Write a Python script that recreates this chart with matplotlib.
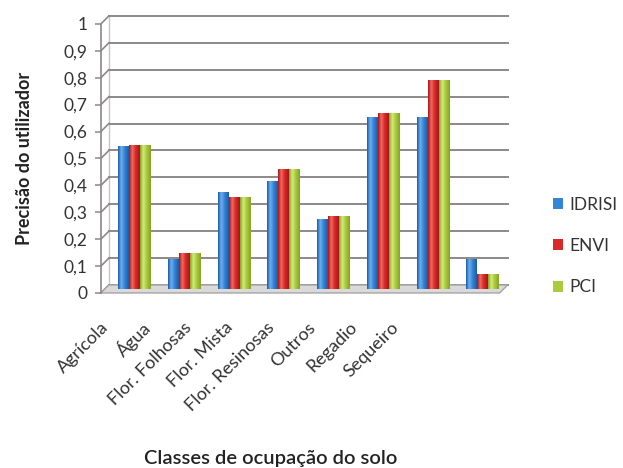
import matplotlib.pyplot as plt
import numpy as np
from matplotlib.colors import LinearSegmentedColormap
from matplotlib.patches import Polygon, Patch

classes = ["Agrícola", "Água", "Flor. Folhosas", "Flor. Mista",
           "Flor. Resinosas", "Outros", "Regadio", "Sequeiro"]
idrisi = [0.53, 0.11, 0.36, 0.40, 0.26, 0.64, 0.64, 0.11]
envi = [0.535, 0.135, 0.34, 0.445, 0.27, 0.655, 0.775, 0.055]
pci = [0.535, 0.135, 0.34, 0.445, 0.27, 0.655, 0.775, 0.055]
series_names = ["IDRISI", "ENVI", "PCI"]
yticks = [0, 0.1, 0.2, 0.3, 0.4, 0.5, 0.6, 0.7, 0.8, 0.9, 1]
ytick_labels = ["0", "0,1", "0,2", "0,3", "0,4", "0,5", "0,6", "0,7", "0,8", "0,9", "1"]

# edge, middle, highlight for the cylinder-like shading
shades = {
    "IDRISI": ("#1d5aa6", "#3585d6", "#6cb0f0"),
    "ENVI": ("#a8141a", "#d92a2a", "#f26a5e"),
    "PCI": ("#86a326", "#aacb3e", "#d4ec7a"),
}

plt.rcParams['font.family'] = ['Lato', 'DejaVu Sans']
grid_col = "#8e8888"

fig = plt.figure(figsize=(6.23, 4.68), dpi=100)
ax = fig.add_axes([0.162, 0.374, 0.640, 0.575])
x0, x1 = -0.6, 7.42
ax.set_xlim(x0, x1)
ax.set_ylim(0, 1)
ax.patch.set_visible(False)

# depth of the pseudo-3D box, 8 px, in data units
ppx = 623 * 0.640 / (x1 - x0)
ppy = 468 * 0.575
ddx, ddy = 8 / ppx, 8 / ppy

# floor
floor = Polygon([(x0, 0), (x1, 0), (x1 + ddx, ddy), (x0 + ddx, ddy)],
                closed=True, facecolor="#d9d9d9", edgecolor="#a5a5a5",
                lw=1.0, clip_on=False, zorder=1)
ax.add_patch(floor)

# back wall gridlines and left wall diagonals
for v in yticks:
    ax.plot([x0 + ddx, x1 + ddx], [v + ddy, v + ddy], color=grid_col,
            lw=1.4, clip_on=False, zorder=0.5)
    ax.plot([x0, x0 + ddx], [v, v + ddy], color=grid_col, lw=1.2,
            clip_on=False, zorder=0.5)
ax.plot([x0 + ddx, x0 + ddx], [ddy, 1 + ddy], color="#c8c4c4", lw=1.0,
        clip_on=False, zorder=0.4)

# bars with horizontal gradient
x = np.arange(len(classes))
w = 0.22
grad = np.linspace(0, 1, 64).reshape(1, -1)
for k, (name, vals) in enumerate(zip(series_names, [idrisi, envi, pci])):
    dark, mid, light = shades[name]
    cmap = LinearSegmentedColormap.from_list(
        name, [(0, dark), (0.3, light), (0.6, mid), (1, dark)])
    xs = x + (k - 1) * w + ddx / 2
    bars = ax.bar(xs, vals, w, bottom=ddy / 2, color=mid, zorder=2,
                  linewidth=0)
    for b in bars:
        bx, by = b.get_x(), b.get_y()
        im = ax.imshow(grad, cmap=cmap, aspect="auto", zorder=3,
                       extent=(bx, bx + b.get_width(), by, by + b.get_height()))
        im.set_clip_path(b)
ax.set_xlim(x0, x1)
ax.set_ylim(0, 1)

# axes decoration
for s in ["top", "right", "bottom"]:
    ax.spines[s].set_visible(False)
ax.spines["left"].set_color(grid_col)
ax.spines["left"].set_linewidth(1.2)
ax.set_yticks(yticks, ytick_labels, fontsize=12.5, color="#333333")
ax.tick_params(axis="y", length=4.3, width=1.1, color=grid_col, pad=5.5)

label_x = -0.5 + 0.833 * np.arange(len(classes))
ax.set_xticks(label_x, classes, rotation=45, ha="right", va="center",
              rotation_mode="anchor", fontsize=13, color="#333333")
ax.tick_params(axis="x", length=0, pad=23)

ax.set_ylabel("Precisão do utilizador", fontsize=13, fontweight="bold",
              color="#222222", labelpad=22)
fig.text(0.435, 0.021, "Classes de ocupação do solo", ha="center",
         va="center", fontsize=14.5, fontweight="semibold", color="#222222")

handles = [Patch(facecolor=shades[n][1], edgecolor="none") for n in series_names]
fig.legend(handles, series_names, loc="center left",
           bbox_to_anchor=(553 / 623, 1 - 246 / 468), frameon=False,
           fontsize=12.5, handlelength=0.6, handleheight=0.6,
           handletextpad=0.35, labelspacing=1.45, borderpad=0,
           borderaxespad=0, labelcolor="#333333")

fig.savefig("out.png", dpi=100)
